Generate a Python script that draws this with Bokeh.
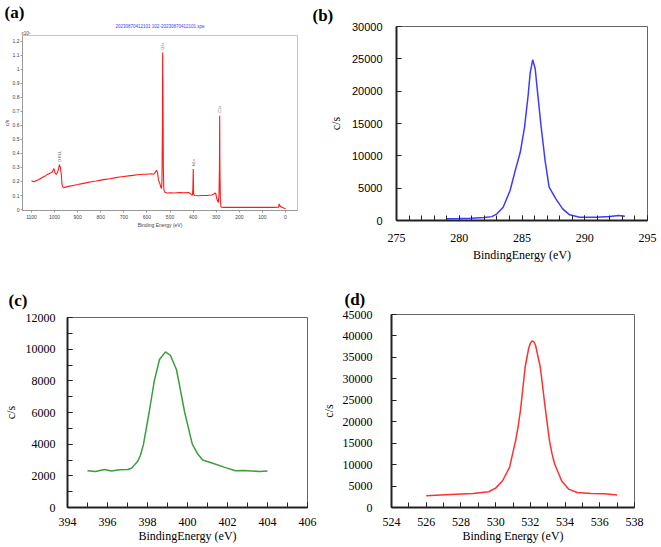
from math import pi
from bokeh.plotting import figure
from bokeh.layouts import column, row
from bokeh.models import Range1d, FixedTicker, ColumnDataSource, Title
from bokeh.embed import file_html
from bokeh.resources import INLINE

# ---------------- data ----------------
# (a) survey spectrum, counts in units of 10^5 c/s
survey_be = [1100, 1090, 1080, 1070, 1060, 1050, 1040, 1030, 1020, 1010, 1003, 998, 993, 988,
             983, 979, 975, 971, 968, 964, 955, 940, 920, 900, 880, 860, 840, 820, 800, 780,
             760, 740, 720, 700, 680, 660, 640, 620, 600, 580, 570, 562, 558, 554, 550, 545,
             540, 537, 535, 533, 532, 531, 529, 527, 524, 515, 500, 480, 460, 440, 420, 412,
             408, 403, 401, 399.5, 398, 394, 380, 360, 340, 320, 310, 305, 302, 298, 294, 291,
             288, 286, 285, 284, 282, 279, 270, 250, 200, 150, 100, 50, 30, 27, 24, 20, 10, 3, 0]
survey_cps = [0.205, 0.198, 0.205, 0.212, 0.222, 0.232, 0.240, 0.252, 0.258, 0.268, 0.292, 0.262,
              0.250, 0.262, 0.290, 0.320, 0.300, 0.250, 0.180, 0.160, 0.158, 0.165, 0.172, 0.178,
              0.185, 0.192, 0.198, 0.203, 0.210, 0.215, 0.220, 0.226, 0.232, 0.236, 0.240, 0.244,
              0.248, 0.252, 0.252, 0.255, 0.252, 0.270, 0.280, 0.260, 0.210, 0.190, 0.160, 0.150,
              0.200, 0.600, 1.120, 0.900, 0.300, 0.150, 0.125, 0.118, 0.120, 0.118, 0.122, 0.120,
              0.122, 0.115, 0.105, 0.102, 0.150, 0.290, 0.110, 0.100, 0.098, 0.100, 0.100, 0.104,
              0.110, 0.118, 0.115, 0.080, 0.060, 0.050, 0.100, 0.300, 0.670, 0.300, 0.060, 0.018,
              0.015, 0.015, 0.016, 0.015, 0.016, 0.015, 0.017, 0.040, 0.025, 0.020, 0.012, 0.008,
              0.005]
survey_peak_names = ["O KLL", "O1s", "N1s", "C1s"]
survey_peak_be = [979, 532, 399.5, 285]
survey_peak_cps = [0.32, 1.12, 0.29, 0.67]
survey_xticks = [1100, 1000, 900, 800, 700, 600, 500, 400, 300, 200, 100, 0]
survey_yticks = [0, 0.1, 0.2, 0.3, 0.4, 0.5, 0.6, 0.7, 0.8, 0.9, 1, 1.1, 1.2]
survey_title = "20230870412101 102-20230870412101.spe"

# (b) C1s
c1s_be = [279.0, 280.0, 281.0, 282.0, 282.6, 283.0, 283.5, 284.05, 284.46, 284.86, 285.2,
          285.5, 285.65, 285.85, 286.05, 286.2, 286.5, 286.84, 287.16, 287.7, 288.24, 288.8,
          289.6, 290.9, 292.0, 292.7, 293.2]
c1s_cps = [260, 300, 360, 450, 600, 1030, 2060, 4630, 7720, 10550, 14400, 19560, 22800, 24850,
           23500, 20580, 14920, 9260, 5150, 3350, 1800, 875, 515, 515, 620, 770, 670]
c1s_xticks = [275, 280, 285, 290, 295]
c1s_yticks = [0, 5000, 10000, 15000, 20000, 25000, 30000]

# (c) N1s
n1s_be = [395.0, 395.4, 395.85, 396.2, 396.6, 397.0, 397.2, 397.5, 397.65, 397.8, 398.08,
          398.34, 398.6, 398.9, 399.15, 399.45, 399.65, 399.86, 400.24, 400.5, 400.76, 401.3,
          401.9, 402.4, 402.8, 403.2, 403.6, 404.0]
n1s_cps = [2315, 2280, 2400, 2300, 2380, 2400, 2480, 2900, 3300, 4000, 6000, 8000, 9350, 9830,
           9600, 8700, 7400, 6000, 4000, 3400, 3000, 2780, 2520, 2320, 2330, 2310, 2270, 2300]
n1s_xticks = [394, 396, 398, 400, 402, 404, 406]
n1s_yticks = [0, 2000, 4000, 6000, 8000, 10000, 12000]

# (d) O1s
o1s_be = [526.0, 527.4, 528.7, 529.6, 530.0, 530.4, 530.8, 531.15, 531.3, 531.43, 531.7, 531.9,
          532.0, 532.1, 532.2, 532.3, 532.57, 532.7, 532.85, 533.1, 533.25, 533.4, 533.8, 534.2,
          534.7, 535.5, 536.26, 537.0]
o1s_cps = [2730, 3040, 3280, 3670, 4520, 6240, 9360, 15600, 19000, 22620, 32760, 37050, 38300,
           38850, 38600, 37830, 32760, 28500, 23400, 15600, 12500, 10140, 6240, 4290, 3510, 3280,
           3200, 2890]
o1s_xticks = [524, 526, 528, 530, 532, 534, 536, 538]
o1s_yticks = [0, 5000, 10000, 15000, 20000, 25000, 30000, 35000, 40000, 45000]

SERIF = "Liberation Serif"
SANS = "Liberation Sans"


def base_fig(**kw):
    p = figure(output_backend="svg", toolbar_location=None, **kw)
    p.grid.visible = False
    p.background_fill_color = "white"
    p.border_fill_color = "white"
    return p


def panel_title(p, text, offset, standoff):
    p.add_layout(Title(text=text, align="left", offset=offset, standoff=standoff,
                       text_font=SERIF, text_font_style="bold", text_font_size="17px",
                       text_color="black"), "above")


def style_excel(p, xmajor, xminor, ymajor, yminor, xlabel, ylabel_font, ylabel_size,
                xstandoff, xtitle_standoff, ystandoff, ytitle_standoff):
    p.outline_line_color = "#666666"
    p.outline_line_width = 1
    ax = p.xaxis[0]
    ax.ticker = FixedTicker(ticks=xmajor, minor_ticks=xminor)
    ay = p.yaxis[0]
    ay.ticker = FixedTicker(ticks=ymajor, minor_ticks=yminor)
    for a in (ax, ay):
        a.axis_line_color = "#222222"
        a.axis_line_width = 2
        a.major_tick_line_color = "#222222"
        a.minor_tick_line_color = "#222222"
        a.major_tick_in = 5
        a.major_tick_out = 0
        a.minor_tick_in = 5
        a.minor_tick_out = 0
        a.major_label_text_color = "black"
        a.axis_label_text_color = "black"
        a.axis_label_text_font = SERIF
        a.axis_label_text_font_size = "12px"
        a.axis_label_text_font_style = "normal"
    ax.major_label_text_font = SERIF
    ax.major_label_text_font_size = "12px"
    ax.major_label_standoff = xstandoff
    ax.axis_label = xlabel
    ax.axis_label_standoff = xtitle_standoff
    ay.major_label_text_font = ylabel_font
    ay.major_label_text_font_size = ylabel_size
    ay.major_label_standoff = ystandoff
    ay.axis_label = "c/s"
    ay.axis_label_standoff = ytitle_standoff


# ---------------- (a) survey ----------------
pa = base_fig(width=304, height=272, x_range=Range1d(1139, -52), y_range=Range1d(-0.007, 1.242),
              min_border_left=13, min_border_right=7, min_border_top=32, min_border_bottom=62)
pa.outline_line_color = "#c4c4c4"
pa.line(survey_be, survey_cps, line_color="#ff1a1a", line_width=1.1)
src_pk = ColumnDataSource(dict(x=survey_peak_be, y=[v + 0.02 for v in survey_peak_cps],
                               t=survey_peak_names))
pa.text(x="x", y="y", text="t", source=src_pk, angle=pi / 2, text_font_size="4px",
        text_color="#555555", text_align="left", text_baseline="middle")
for a in (pa.xaxis[0], pa.yaxis[0]):
    a.axis_line_color = "#999999"
    a.major_tick_line_color = "#999999"
    a.minor_tick_line_color = None
    a.major_tick_out = 2
    a.major_tick_in = 0
    a.major_label_text_font = SANS
    a.major_label_text_font_size = "5px"
    a.major_label_text_color = "#444444"
    a.major_label_standoff = 2
    a.axis_label_text_font = SANS
    a.axis_label_text_font_size = "5px"
    a.axis_label_text_font_style = "normal"
    a.axis_label_text_color = "#444444"
    a.axis_label_standoff = 0
pa.xaxis[0].ticker = FixedTicker(ticks=survey_xticks)
pa.yaxis[0].ticker = FixedTicker(ticks=survey_yticks)
pa.yaxis[0].major_label_standoff = 1
pa.yaxis[0].major_label_overrides = {0: "0", 1: "1"}
pa.xaxis[0].axis_label = "Binding Energy (eV)"
pa.yaxis[0].axis_label = "c/s"
pa.add_layout(Title(text="x10\u2075", align="left", offset=-1, standoff=0, text_font=SANS,
                    text_font_size="4.5px", text_font_style="normal", text_color="#444444"),
              "above")
pa.add_layout(Title(text=survey_title, align="center", standoff=0, text_font=SANS,
                    text_font_size="4.5px", text_font_style="normal", text_color="#3a3aff"),
              "above")
panel_title(pa, "(a)", -18, 0)

# ---------------- (b) C1s ----------------
pb = base_fig(width=357, height=272, x_range=Range1d(275, 295), y_range=Range1d(0, 30000),
              min_border_left=92, min_border_right=14, min_border_top=26, min_border_bottom=52)
pb.line(c1s_be, c1s_cps, line_color="#3c3cff", line_width=1.5)
style_excel(pb, c1s_xticks, list(range(275, 296)), c1s_yticks, [], "BindingEnergy (eV)",
            SANS, "11px", 13, 3, 14, 6)
panel_title(pb, "(b)", -84, 4)

# ---------------- (c) N1s ----------------
pc = base_fig(width=318, height=275, x_range=Range1d(394, 406), y_range=Range1d(0, 12000),
              min_border_left=62, min_border_right=11, min_border_top=45, min_border_bottom=40)
pc.line(n1s_be, n1s_cps, line_color="#3d9d3d", line_width=1.5)
style_excel(pc, n1s_xticks, list(range(394, 407)), n1s_yticks, list(range(0, 12001, 1000)),
            "BindingEnergy (eV)", SERIF, "12px", 10, 0, 12, 5)
panel_title(pc, "(c)", -59, 15)

# ---------------- (d) O1s ----------------
pd_ = base_fig(width=343, height=275, x_range=Range1d(524, 538), y_range=Range1d(0, 45000),
               min_border_left=69, min_border_right=27, min_border_top=42, min_border_bottom=40)
pd_.line(o1s_be, o1s_cps, line_color="#ff3030", line_width=1.5)
style_excel(pd_, o1s_xticks, list(range(524, 539)), o1s_yticks, [], "Binding Energy (eV)",
            SERIF, "12px", 10, 0, 19, 4)
panel_title(pd_, "(d)", -47, 12)

layout = column(row(column(pa), column(pb)), row(column(pc), column(pd_)))
open("out.html", "w").write(file_html(layout, INLINE))
